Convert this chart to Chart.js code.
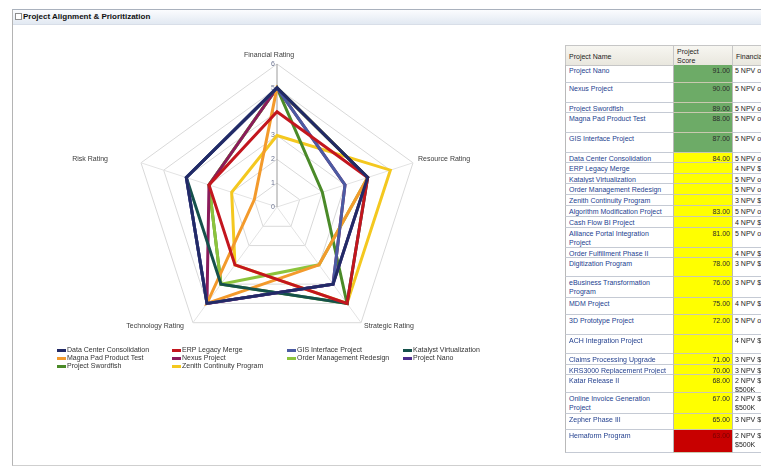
<!DOCTYPE html>
<html>
<head>
<meta charset="utf-8">
<script src="https://cdn.jsdelivr.net/npm/chart.js@4.4.1/dist/chart.umd.min.js"></script>
<style>
  html, body { margin: 0; padding: 0; background: #fff; }
  body { width: 761px; height: 468px; position: relative; overflow: hidden;
         font-family: "Liberation Sans", Arial, sans-serif; }
  #frame { position: absolute; left: 12px; top: 9px; width: 760px; height: 455px;
           border-left: 1px solid #b4b4b4; border-top: 1px solid #a9b1bd; border-bottom: 1px solid #cfcfcf; }
  #titlebar { position: absolute; left: 13px; top: 10px; width: 748px; height: 14px;
              background: linear-gradient(#fbfcfe, #e2e9f2); border-bottom: 1px solid #d8dee8; }
  #icon { position: absolute; left: 15px; top: 13px; width: 5px; height: 5px;
          border: 1px solid #8d8d8d; background: #fff; }
  #title { position: absolute; left: 23px; top: 12px; font-size: 8px; line-height: 10px;
           font-weight: bold; color: #111; white-space: nowrap; }
  #chartWrap { position: absolute; left: 14px; top: 30px; width: 540px; height: 330px; }
  .lg { position: absolute; font-size: 7px; line-height: 8px; color: #333; white-space: nowrap; }
  .lg i { position: absolute; left: 0; top: 3px; width: 9px; height: 3px; }
  .lg span { position: absolute; left: 10px; top: 0; }
  .cell { position: absolute; box-sizing: border-box; font-size: 7px; line-height: 9px;
          overflow: hidden; white-space: pre; }
  .hdr { background: linear-gradient(#f7f6f1, #e9e7de); border: 1px solid #c6c6c6; color: #222; }
  .nm { color: #24418f; border-left: 1px solid #b9b9b9; border-bottom: 1px solid #c5cad4;
        padding: 1px 2px 0 3px; white-space: normal; }
  .sc { color: #2a2a2a; border-left: 1px solid #b9b9b9; border-bottom: 1px solid #c9c9b0;
        text-align: right; padding: 1px 2px 0 0; }
  .fn { color: #222; border-left: 1px solid #b9b9b9; border-bottom: 1px solid #c5cad4;
        padding: 1px 0 0 2px; }
</style>
</head>
<body>
<div id="frame"></div>
<div id="titlebar"></div>
<div id="icon"></div>
<div id="title">Project Alignment &amp; Prioritization</div>
<div id="chartWrap"><canvas id="radar" width="540" height="330"></canvas></div>
<div id="legend"></div>
<div id="table"></div>

<script>
// Radar axes
const axisLabels = ["Financial Rating", "Resource Rating", "Strategic Rating", "Technology Rating", "Risk Rating"];
const ratingTicks = [0, 1, 2, 3, 4, 5, 6];

// Project ratings, in axis order: financial, resource, strategic, technology, risk
const dataCenterConsolidation = [5, 4, 4, 5, 4];
const erpLegacyMerge          = [4, 4, 5, 3, 3];
const gisInterfaceProject     = [5, 3, 4, 5, 4];
const katalystVirtualization  = [5, 4, 5, 4, 4];
const magnaPadProductTest     = [5, 4, 3, 5, 1];
const nexusProject            = [5, 3, 4, 5, 3];
const orderManagementRedesign = [5, 4, 3, 4, 3];
const projectNano             = [5, 4, 4, 5, 4];
const projectSwordfish        = [5, 2, 5, 4, 3];
const zenithContinuityProgram = [3, 5, 5, 3, 2];

const seriesNames = ["Data Center Consolidation", "ERP Legacy Merge", "GIS Interface Project",
  "Katalyst Virtualization", "Magna Pad Product Test", "Nexus Project", "Order Management Redesign",
  "Project Nano", "Project Swordfish", "Zenith Continuity Program"];
const seriesValues = [dataCenterConsolidation, erpLegacyMerge, gisInterfaceProject,
  katalystVirtualization, magnaPadProductTest, nexusProject, orderManagementRedesign,
  projectNano, projectSwordfish, zenithContinuityProgram];
const seriesColors = ["#222a66", "#c3161e", "#4b5ba3", "#15514b", "#f39a2c", "#8a1b5b",
  "#8cc43c", "#4b2b8c", "#4a8a28", "#f4c81f"];

// Prioritization table
const projectNames = ["Project Nano", "Nexus Project", "Project Swordfish", "Magna Pad Product Test",
  "GIS Interface Project", "Data Center Consolidation", "ERP Legacy Merge", "Katalyst Virtualization",
  "Order Management Redesign", "Zenith Continuity Program", "Algorithm Modification Project",
  "Cash Flow BI Project", "Alliance Portal Integration Project", "Order Fulfillment Phase II",
  "Digitization Program", "eBusiness Transformation Program", "MDM Project", "3D Prototype Project",
  "ACH Integration Project", "Claims Processing Upgrade", "KRS3000 Replacement Project",
  "Katar Release II", "Online Invoice Generation Project", "Zepher Phase III", "Hemaform Program"];
const projectScores = [91, 90, 89, 88, 87, 84, null, null, null, null, 83, null, 81, null,
  78, 76, 75, 72, null, 71, 70, 68, 67, 65, 63];
const financialScores = [5, 5, 5, 5, 5, 5, 4, 5, 5, 3, 5, 4, 5, 4, 3, 3, 4, 5, 4, 3, 3, 2, 2, 3, 2];
const financialText = { 5: "5 NPV over $1M", 4: "4 NPV $750K - $1M", 3: "3 NPV $500K-$750K", 2: "2 NPV $250K -\n$500K" };

// table layout (row heights in px)
const rowHeights = [18, 20, 10, 20, 20, 10, 11, 10, 11, 11, 11, 11, 20, 10, 19, 21, 17, 20, 19, 11, 10, 18, 21, 16, 23];

// draws tick numbers and axis titles under the series lines
const axisTextPlugin = {
  id: 'axisText',
  beforeDatasetsDraw(chart) {
    const s = chart.scales.r;
    const ctx = chart.ctx;
    ctx.save();
    ctx.font = '7px "Liberation Sans", Arial, sans-serif';
    ctx.textBaseline = 'middle';
    ctx.textAlign = 'center';
    ctx.fillStyle = '#6d7592';
    s.ticks.forEach(t => {
      const p = s.getPointPositionForValue(0, t.value);
      ctx.fillText(String(t.value), p.x - 4, p.y);
    });
    const place = [
      { dx: -8, dy: -9, align: 'center' },
      { dx: 5, dy: -4, align: 'left' },
      { dx: 3, dy: 3, align: 'left' },
      { dx: -9, dy: 3, align: 'right' },
      { dx: -33, dy: -4, align: 'right' }
    ];
    ctx.fillStyle = '#3c3c3c';
    chart.data.labels.forEach((lab, i) => {
      const p = s.getPointPosition(i, s.drawingArea);
      ctx.textAlign = place[i].align;
      ctx.fillText(lab, p.x + place[i].dx, p.y + place[i].dy);
    });
    ctx.restore();
  }
};

const chart = new Chart(document.getElementById('radar'), {
  type: 'radar',
  data: {
    labels: axisLabels,
    datasets: seriesNames.map((name, i) => ({
      label: name,
      data: seriesValues[i],
      borderColor: seriesColors[i],
      backgroundColor: seriesColors[i],
      borderWidth: 3,
      fill: false,
      pointRadius: 0,
      pointHoverRadius: 0,
      tension: 0
    }))
  },
  options: {
    responsive: false,
    animation: false,
    devicePixelRatio: 1,
    layout: { padding: { left: 120, right: 134, top: 34, bottom: 10 } },
    plugins: { legend: { display: false }, tooltip: { enabled: false } },
    scales: {
      r: {
        min: ratingTicks[0],
        max: ratingTicks[ratingTicks.length - 1],
        ticks: { stepSize: 1, display: false },
        pointLabels: { display: false },
        grid: { color: '#d9d9d9', lineWidth: 1 },
        angleLines: { color: ctx => ctx.index === 0 ? '#9c9c9c' : '#e3e3e3', lineWidth: 1 }
      }
    }
  },
  plugins: [axisTextPlugin]
});

// legend in four columns, from the chart's own legend items
(function buildLegend() {
  const items = Chart.defaults.plugins.legend.labels.generateLabels(chart);
  const colX = [57, 172, 287, 403];
  const rowY = [346, 354, 362];
  const box = document.getElementById('legend');
  items.forEach((it, i) => {
    const d = document.createElement('div');
    d.className = 'lg';
    d.style.left = colX[i % 4] + 'px';
    d.style.top = rowY[Math.floor(i / 4)] + 'px';
    const m = document.createElement('i');
    m.style.background = it.strokeStyle;
    const t = document.createElement('span');
    t.textContent = it.text;
    d.appendChild(m); d.appendChild(t);
    box.appendChild(d);
  });
})();

// prioritization table
(function buildTable() {
  const box = document.getElementById('table');
  const cols = [{ x: 565, w: 108 }, { x: 673, w: 59 }, { x: 732, w: 120 }];
  function cell(cls, x, y, w, h, text, bg) {
    const d = document.createElement('div');
    d.className = 'cell ' + cls;
    d.style.left = x + 'px'; d.style.top = y + 'px';
    d.style.width = w + 'px'; d.style.height = h + 'px';
    if (bg) d.style.background = bg;
    d.textContent = text;
    box.appendChild(d);
    return d;
  }
  const h1 = cell('hdr', cols[0].x, 45, cols[0].w + 1, 21, 'Project Name');
  h1.style.padding = '6px 0 0 3px';
  const h2 = cell('hdr', cols[1].x, 45, cols[1].w + 1, 21, 'Project\nScore');
  h2.style.padding = '1px 0 0 3px';
  const h3 = cell('hdr', cols[2].x, 45, cols[2].w, 21, 'Financial Rating');
  h3.style.padding = '6px 0 0 3px';

  function band(score) {
    if (score >= 85) return '#6dab67';
    if (score >= 65) return '#ffff00';
    return '#c80000';
  }
  let y = 65, lastScore = null;
  projectNames.forEach((name, i) => {
    const h = rowHeights[i];
    const sc = projectScores[i];
    if (sc !== null) lastScore = sc;
    cell('nm', cols[0].x, y, cols[0].w, h, name);
    const s = cell('sc', cols[1].x, y, cols[1].w, h, sc === null ? '' : sc.toFixed(2), band(lastScore));
    if (lastScore < 65) s.style.color = '#7a0000';
    cell('fn', cols[2].x, y, cols[2].w, h, financialText[financialScores[i]]);
    y += h;
  });
})();
</script>
</body>
</html>
